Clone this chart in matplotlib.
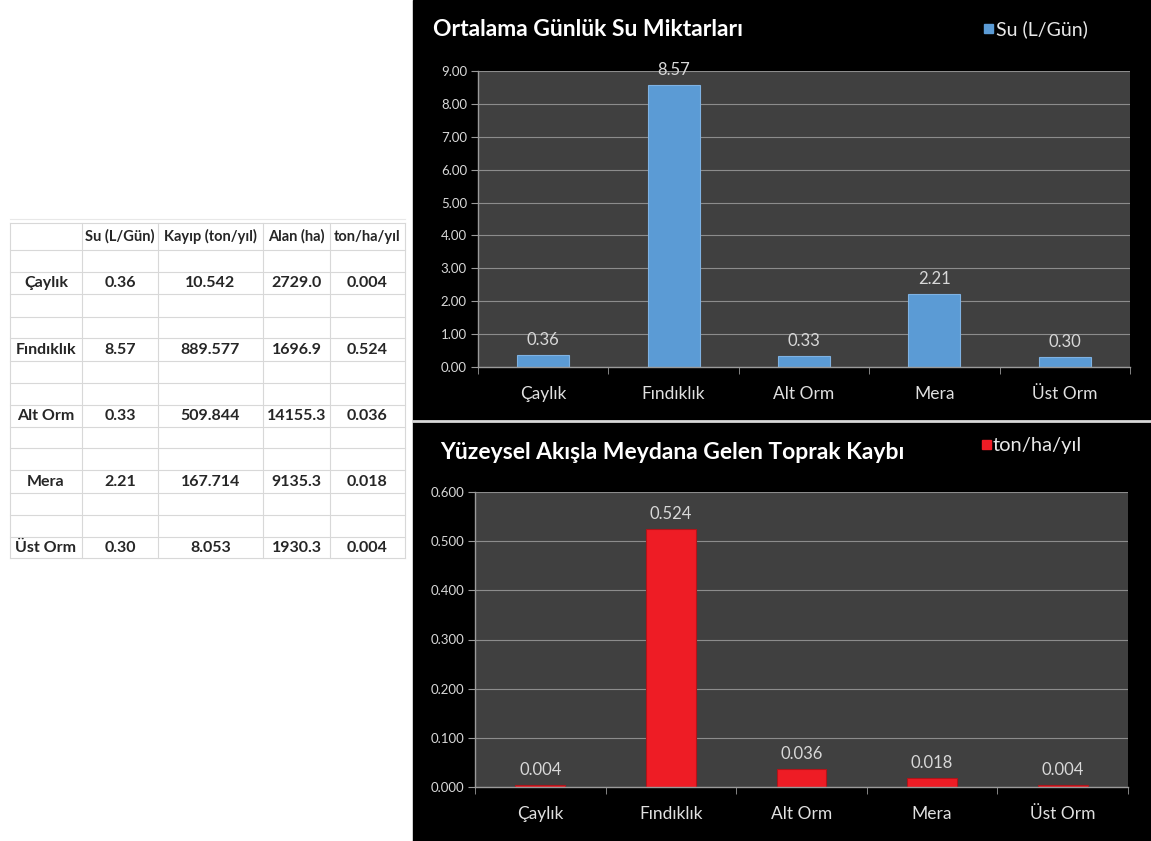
import matplotlib.pyplot as plt
from matplotlib.patches import Rectangle
from matplotlib.lines import Line2D

plt.rcParams['font.family'] = ['Lato', 'DejaVu Sans']

# === Data ===
categories = ['Çaylık', 'Fındıklık', 'Alt Orm', 'Mera', 'Üst Orm']
su = [0.36, 8.57, 0.33, 2.21, 0.30]
kayip = ['10.542', '889.577', '509.844', '167.714', '8.053']
alan = ['2729.0', '1696.9', '14155.3', '9135.3', '1930.3']
ton_ha = [0.004, 0.524, 0.036, 0.018, 0.004]
table_header = ['', 'Su (L/Gün)', 'Kayıp (ton/yıl)', 'Alan (ha)', 'ton/ha/yıl']
top_ticks = [0, 1, 2, 3, 4, 5, 6, 7, 8, 9]
bottom_ticks = [0, 0.1, 0.2, 0.3, 0.4, 0.5, 0.6]

W, H = 1151, 841
fig = plt.figure(figsize=(W / 100, H / 100), dpi=100)
fig.patch.set_facecolor('white')

# pixel-space overlay for panel background, table and legend boxes
bg = fig.add_axes([0, 0, 1, 1], zorder=0)
bg.set_xlim(0, W)
bg.set_ylim(H, 0)
bg.axis('off')
bg.add_patch(Rectangle((413, 0), W - 413, H, color='black'))
bg.add_line(Line2D([413, W], [421, 421], color='#d8d8d8', lw=2))

# --- table ---
col_x = [10, 82, 158, 263, 330, 405]
row_y = [223, 250, 272, 294, 317, 338, 361, 383, 405, 427, 448, 470, 493, 515, 537, 558]
grid_c = '#d8d8d8'
for x in col_x:
    bg.add_line(Line2D([x, x], [row_y[0], row_y[-1]], color=grid_c, lw=0.8))
for y in row_y:
    bg.add_line(Line2D([col_x[0], col_x[-1]], [y, y], color=grid_c, lw=0.8))
bg.add_line(Line2D([col_x[0], col_x[-1]], [row_y[0] - 4, row_y[0] - 4], color='#e8e8e8', lw=0.8))

def cell_center(ci, ri):
    return (col_x[ci] + col_x[ci + 1]) / 2, (row_y[ri] + row_y[ri + 1]) / 2

for ci, h in enumerate(table_header):
    cx, cy = cell_center(ci, 0)
    bg.text(cx, cy, h, ha='center', va='center', fontsize=10.5, fontweight='bold',
            color='#262626', clip_on=False)

data_rows = [2, 5, 8, 11, 14]
for i, ri in enumerate(data_rows):
    vals = [categories[i], f'{su[i]:.2f}', kayip[i], alan[i], f'{ton_ha[i]:.3f}']
    for ci, v in enumerate(vals):
        cx, cy = cell_center(ci, ri)
        bg.text(cx, cy, v, ha='center', va='center', fontsize=11.5, fontweight='bold', color='#262626')

# --- titles & legends ---
bg.text(433, 29, 'Ortalama Günlük Su Miktarları', ha='left', va='center',
        fontsize=16.5, fontweight='bold', color='white')
bg.add_patch(Rectangle((984, 24), 9, 9, color='#5b9bd5'))
bg.text(996, 29, 'Su (L/Gün)', ha='left', va='center', fontsize=14, color='#e8e8e8')

bg.text(440, 452, 'Yüzeysel Akışla Meydana Gelen Toprak Kaybı', ha='left', va='center',
        fontsize=16.5, fontweight='bold', color='white')
bg.add_patch(Rectangle((982, 440), 9, 9, color='#ee1c25'))
bg.text(993, 445, 'ton/ha/yıl', ha='left', va='center', fontsize=14.5, color='#e8e8e8')


def style_axes(ax, ticks, fmt, ylim):
    ax.set_facecolor('#404040')
    ax.set_xlim(-0.5, len(categories) - 0.5)
    ax.set_ylim(*ylim)
    ax.set_yticks(ticks)
    ax.set_yticklabels([fmt.format(t) for t in ticks], fontsize=9.5, color='#d8d8d8')
    ax.yaxis.grid(True, color='#8c8c8c', lw=0.8)
    ax.set_axisbelow(True)
    ax.set_xticks(range(len(categories)))
    ax.set_xticklabels(categories, fontsize=12.5, color='#e0e0e0')
    ax.set_xticks([i + 0.5 for i in range(-1, len(categories))], minor=True)
    ax.tick_params(axis='x', which='major', length=0, pad=14)
    ax.tick_params(axis='x', which='minor', length=5, color='#9a9a9a', direction='out')
    ax.tick_params(axis='y', length=5, color='#9a9a9a', direction='out', pad=3)
    for s in ['top', 'right']:
        ax.spines[s].set_visible(False)
    for s in ['left', 'bottom']:
        ax.spines[s].set_color('#9a9a9a')
        ax.spines[s].set_linewidth(1)


# --- top chart ---
ax1 = fig.add_axes([478 / W, 1 - 367 / H, (1130 - 478) / W, (367 - 71) / H], zorder=2)
style_axes(ax1, top_ticks, '{:.2f}', (0, 9))
ax1.bar(range(len(categories)), su, width=0.4, color='#5b9bd5', edgecolor='#7fb2e3', lw=0.8)
for i, v in enumerate(su):
    ax1.annotate(f'{v:.2f}', (i, v), xytext=(0, 5), textcoords='offset points',
                 ha='center', va='bottom', fontsize=12, color='#d8d8d8')

# --- bottom chart ---
ax2 = fig.add_axes([475 / W, 1 - 787 / H, (1128 - 475) / W, (787 - 492) / H], zorder=2)
style_axes(ax2, bottom_ticks, '{:.3f}', (0, 0.6))
ax2.bar(range(len(categories)), ton_ha, width=0.38, color='#ee1c25', edgecolor='#b0141a', lw=0.8)
for i, v in enumerate(ton_ha):
    ax2.annotate(f'{v:.3f}', (i, v), xytext=(0, 5), textcoords='offset points',
                 ha='center', va='bottom', fontsize=12, color='#d8d8d8')

fig.savefig('out.png', dpi=100)
